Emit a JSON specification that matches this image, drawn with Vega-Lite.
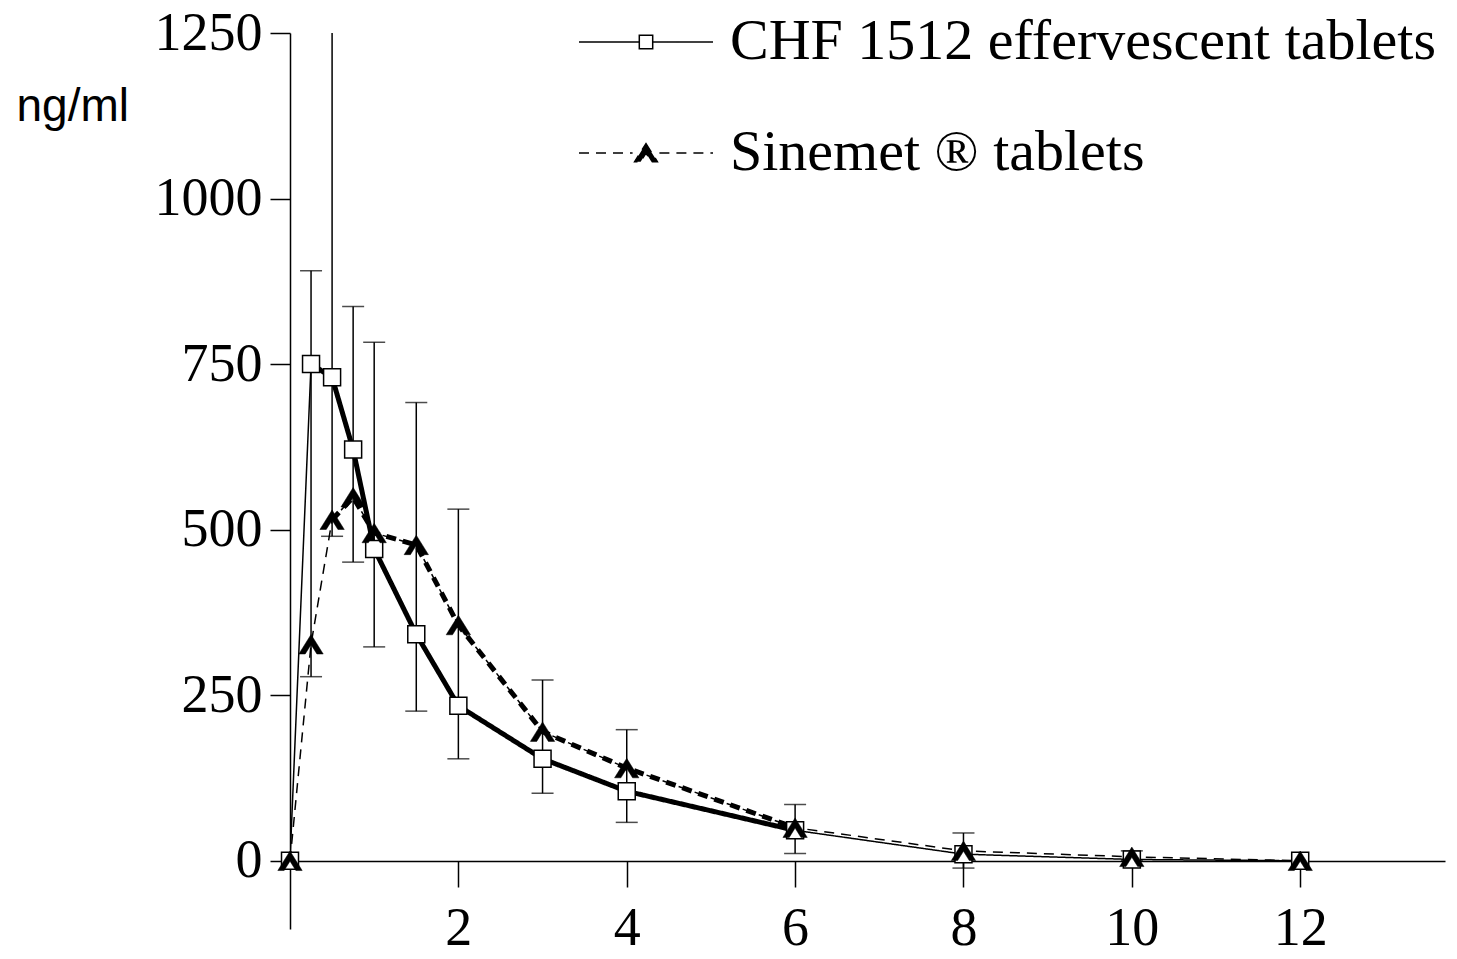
{
  "$schema": "https://vega.github.io/schema/vega-lite/v6.json",
  "autosize": {"type": "none"},
  "padding": {"left": 290, "top": 33, "right": 12, "bottom": 30},
  "width": 1155,
  "height": 896,
  "background": "white",
  "config": {
    "view": {"stroke": null},
    "axis": {
      "grid": false,
      "domainColor": "#000",
      "domainWidth": 1.5,
      "tickColor": "#000",
      "tickWidth": 1.5,
      "labelColor": "#000",
      "labelFont": "Liberation Serif",
      "labelFontSize": 54
    }
  },
  "datasets": {
    "conc": [
      {"series": "CHF 1512 effervescent tablets", "time": 0, "conc": 0},
      {"series": "CHF 1512 effervescent tablets", "time": 0.25, "conc": 750},
      {"series": "CHF 1512 effervescent tablets", "time": 0.5, "conc": 730},
      {"series": "CHF 1512 effervescent tablets", "time": 0.75, "conc": 621},
      {"series": "CHF 1512 effervescent tablets", "time": 1, "conc": 471},
      {"series": "CHF 1512 effervescent tablets", "time": 1.5, "conc": 342},
      {"series": "CHF 1512 effervescent tablets", "time": 2, "conc": 234},
      {"series": "CHF 1512 effervescent tablets", "time": 3, "conc": 154},
      {"series": "CHF 1512 effervescent tablets", "time": 4, "conc": 105},
      {"series": "CHF 1512 effervescent tablets", "time": 6, "conc": 46},
      {"series": "CHF 1512 effervescent tablets", "time": 8, "conc": 10},
      {"series": "CHF 1512 effervescent tablets", "time": 10, "conc": 2},
      {"series": "CHF 1512 effervescent tablets", "time": 12, "conc": 0},
      {"series": "Sinemet ® tablets", "time": 0, "conc": 0},
      {"series": "Sinemet ® tablets", "time": 0.25, "conc": 327},
      {"series": "Sinemet ® tablets", "time": 0.5, "conc": 515},
      {"series": "Sinemet ® tablets", "time": 0.75, "conc": 549},
      {"series": "Sinemet ® tablets", "time": 1, "conc": 495},
      {"series": "Sinemet ® tablets", "time": 1.5, "conc": 477},
      {"series": "Sinemet ® tablets", "time": 2, "conc": 356},
      {"series": "Sinemet ® tablets", "time": 3, "conc": 195},
      {"series": "Sinemet ® tablets", "time": 4, "conc": 140},
      {"series": "Sinemet ® tablets", "time": 6, "conc": 50},
      {"series": "Sinemet ® tablets", "time": 8, "conc": 15},
      {"series": "Sinemet ® tablets", "time": 10, "conc": 6},
      {"series": "Sinemet ® tablets", "time": 12, "conc": 0}
    ],
    "err": [
      {"time": 0.25, "lo": 278, "hi": 891},
      {"time": 0.5, "lo": 490, "hi": 1450},
      {"time": 0.75, "lo": 451, "hi": 837},
      {"time": 1, "lo": 323, "hi": 783},
      {"time": 1.5, "lo": 226, "hi": 692},
      {"time": 2, "lo": 154, "hi": 531},
      {"time": 3, "lo": 102, "hi": 273},
      {"time": 4, "lo": 58, "hi": 198},
      {"time": 6, "lo": 11, "hi": 85},
      {"time": 8, "lo": -11, "hi": 42},
      {"time": 10, "lo": 0, "hi": 15}
    ]
  },
  "layer": [
    {
      "data": {"name": "conc"},
      "mark": {"type": "line", "color": "#000", "strokeWidth": 1.5, "clip": true},
      "encoding": {
        "x": {
          "field": "time", "type": "quantitative",
          "scale": {"domain": [0, 13.72], "nice": false, "zero": false},
          "axis": {
            "title": null,
            "values": [2, 4, 6, 8, 10, 12],
            "format": "d",
            "offset": -68,
            "tickSize": 26,
            "labelPadding": 14,
            "labelFlush": false,
            "labelOverlap": false
          }
        },
        "y": {
          "field": "conc", "type": "quantitative",
          "scale": {"domain": [-103, 1250], "nice": false, "zero": false},
          "axis": {
            "title": "ng/ml",
            "titleAngle": 0,
            "titleX": -274,
            "titleY": 87,
            "titleAlign": "left",
            "titleBaseline": "alphabetic",
            "titleFont": "Liberation Sans",
            "titleFontSize": 46,
            "titleFontWeight": "normal",
            "titleColor": "#000",
            "values": [0, 250, 500, 750, 1000, 1250],
            "format": "d",
            "tickSize": 20,
            "labelPadding": 8,
            "labelFlush": false,
            "labelOverlap": false
          }
        },
        "strokeDash": {
          "field": "series", "type": "nominal",
          "scale": {
            "domain": ["CHF 1512 effervescent tablets", "Sinemet ® tablets"],
            "range": [[1, 0], [10, 7]]
          },
          "legend": {
            "title": null,
            "orient": "none",
            "legendX": 288,
            "legendY": -20,
            "padding": 0,
            "symbolSize": 17956,
            "clipHeight": 58,
            "symbolStrokeColor": "#000",
            "symbolStrokeWidth": 1.5,
            "labelFont": "Liberation Serif",
            "labelFontSize": 58,
            "labelColor": "#000",
            "labelLimit": 2000,
            "labelOffset": 16,
            "rowPadding": 53,
            "encode": {
              "symbols": {
                "update": {
                  "shape": {"signal": "datum.value === 'CHF 1512 effervescent tablets' ? 'M-1,0H-0.1M0.1,0H1M-0.1,-0.1H0.1V0.1H-0.1Z' : 'M-1,0H-0.2M0.2,0H1M0,-0.14L0.17,0.13L0.08,0.13L0,0.0L-0.08,0.13L-0.17,0.13Z'"},
                  "fill": {"signal": "datum.value === 'CHF 1512 effervescent tablets' ? '#fff' : '#000'"},
                  "stroke": {"value": "#000"}
                }
              }
            }
          }
        }
      }
    },
    {
      "data": {"name": "conc"},
      "transform": [
        {"filter": "(datum.series === 'CHF 1512 effervescent tablets' && datum.time >= 0.25 && datum.time <= 6) || (datum.series === 'Sinemet ® tablets' && datum.time >= 0.5 && datum.time <= 6)"}
      ],
      "mark": {"type": "line", "color": "#000", "strokeWidth": 5, "clip": true},
      "encoding": {
        "x": {"field": "time", "type": "quantitative"},
        "y": {"field": "conc", "type": "quantitative"},
        "strokeDash": {"field": "series", "type": "nominal"}
      }
    },
    {
      "data": {"name": "err"},
      "mark": {"type": "rule", "color": "#000", "strokeWidth": 1.5, "clip": true},
      "encoding": {
        "x": {"field": "time", "type": "quantitative"},
        "y": {"field": "lo", "type": "quantitative"},
        "y2": {"field": "hi"}
      }
    },
    {
      "data": {"name": "err"},
      "mark": {"type": "tick", "orient": "horizontal", "color": "#000", "size": 22, "thickness": 1.5, "clip": true},
      "encoding": {
        "x": {"field": "time", "type": "quantitative"},
        "y": {"field": "hi", "type": "quantitative"}
      }
    },
    {
      "data": {"name": "err"},
      "mark": {"type": "tick", "orient": "horizontal", "color": "#000", "size": 22, "thickness": 1.5, "clip": true},
      "encoding": {
        "x": {"field": "time", "type": "quantitative"},
        "y": {"field": "lo", "type": "quantitative"}
      }
    },
    {
      "data": {"name": "conc"},
      "transform": [{"filter": "datum.series === 'CHF 1512 effervescent tablets'"}],
      "mark": {"type": "point", "shape": "square", "filled": true, "fill": "#fff", "stroke": "#000", "strokeWidth": 1.5, "size": 289, "opacity": 1},
      "encoding": {
        "x": {"field": "time", "type": "quantitative"},
        "y": {"field": "conc", "type": "quantitative"}
      }
    },
    {
      "data": {"name": "conc"},
      "transform": [{"filter": "datum.series === 'Sinemet ® tablets'"}],
      "mark": {"type": "point", "shape": "M0,-1.0L1.25,1.0L0.6,1.0L0,0.04L-0.6,1.0L-1.25,1.0Z", "filled": true, "fill": "#000", "stroke": "#000", "strokeWidth": 0.5, "size": 380, "opacity": 1},
      "encoding": {
        "x": {"field": "time", "type": "quantitative"},
        "y": {"field": "conc", "type": "quantitative"}
      }
    }
  ]
}
